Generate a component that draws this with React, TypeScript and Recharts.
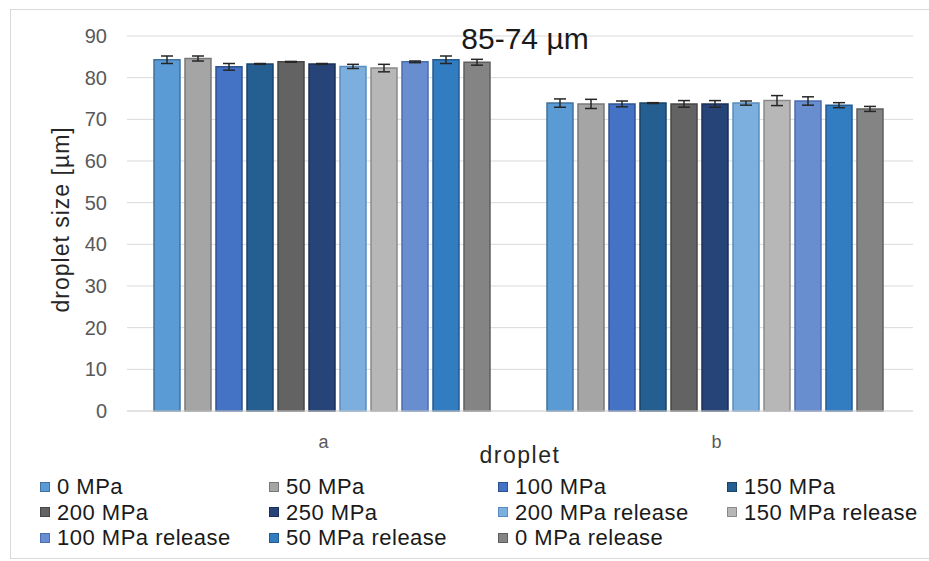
import React from "react";
import { BarChart, Bar, XAxis, YAxis, CartesianGrid, ErrorBar } from "recharts";

const categories = ["a", "b"];

const seriesNames = [
  "0 MPa",
  "50 MPa",
  "100 MPa",
  "150 MPa",
  "200 MPa",
  "250 MPa",
  "200 MPa release",
  "150 MPa release",
  "100 MPa release",
  "50 MPa release",
  "0 MPa release",
];

const valuesA = [84.3, 84.6, 82.6, 83.3, 83.8, 83.3, 82.7, 82.3, 83.8, 84.3, 83.7];
const errorsA = [0.9, 0.6, 0.8, 0.1, 0.1, 0.1, 0.5, 0.9, 0.2, 0.9, 0.7];
const valuesB = [73.9, 73.7, 73.7, 73.9, 73.7, 73.7, 73.9, 74.5, 74.4, 73.4, 72.5];
const errorsB = [1.0, 1.1, 0.7, 0.1, 0.8, 0.8, 0.5, 1.2, 1.0, 0.6, 0.6];

const yTicks = [0, 10, 20, 30, 40, 50, 60, 70, 80, 90];

const colors = [
  "#5B9BD5",
  "#A5A5A5",
  "#4472C4",
  "#255E91",
  "#636363",
  "#264478",
  "#7CAFDD",
  "#B7B7B7",
  "#698ED0",
  "#327DC2",
  "#848484",
];
const outlines = [
  "#41719C",
  "#787878",
  "#2F528F",
  "#1A4367",
  "#474747",
  "#1B3056",
  "#5A8DBF",
  "#8A8A8A",
  "#4A6DB0",
  "#245A8E",
  "#5F5F5F",
];

const valueLists = [valuesA, valuesB];
const errorLists = [errorsA, errorsB];

const data = categories.map((cat, ci) => {
  const row: Record<string, string | number> = { name: cat };
  seriesNames.forEach((_, si) => {
    row[`s${si}`] = valueLists[ci][si];
    row[`e${si}`] = errorLists[ci][si];
  });
  return row;
});

const font = "'Liberation Sans', Arial, sans-serif";

const App: React.FC = () => {
  return (
    <div
      style={{
        position: "fixed",
        left: 0,
        top: 0,
        width: 929,
        height: 561,
        background: "#fff",
        fontFamily: font,
      }}
    >
      <div
        style={{
          position: "absolute",
          left: 10,
          top: 9,
          width: 919,
          height: 548,
          borderLeft: "1px solid #d9d9d9",
          borderTop: "1px solid #d9d9d9",
          borderBottom: "1px solid #d9d9d9",
        }}
      />
      <BarChart
        width={929}
        height={561}
        data={data}
        margin={{ top: 36, right: 16, bottom: 120, left: 67 }}
        barCategoryGap={27}
        barGap={5}
      >
        <CartesianGrid vertical={false} stroke="#d9d9d9" />
        <XAxis
          dataKey="name"
          height={30}
          axisLine={{ stroke: "#d9d9d9" }}
          tickLine={false}
          tick={{ fill: "#595959", fontSize: 18, fontFamily: font }}
          tickMargin={18}
          label={{
            value: "droplet",
            position: "insideBottom",
            offset: -22,
            fill: "#262626",
            fontSize: 23,
            letterSpacing: 1.5,
            fontFamily: font,
          }}
        />
        <YAxis
          width={60}
          domain={[0, 90]}
          ticks={yTicks}
          axisLine={false}
          tickLine={false}
          tick={{ fill: "#595959", fontSize: 20, fontFamily: font }}
          tickMargin={14}
          label={{
            value: "droplet size [µm]",
            angle: -90,
            position: "insideLeft",
            dx: -11,
            dy: 89,
            fill: "#262626",
            fontSize: 23,
            letterSpacing: 1,
            fontFamily: font,
          }}
        />
        {seriesNames.map((name, si) => (
          <Bar
            key={name}
            dataKey={`s${si}`}
            name={name}
            fill={colors[si]}
            stroke={outlines[si]}
            strokeWidth={1.5}
            isAnimationActive={false}
          >
            <ErrorBar dataKey={`e${si}`} width={6} stroke="#262626" strokeWidth={1.5} />
          </Bar>
        ))}
      </BarChart>
      <div
        style={{
          position: "absolute",
          left: 400,
          width: 250,
          top: 22,
          textAlign: "center",
          fontSize: 30,
          color: "#1a1a1a",
          lineHeight: "34px",
        }}
      >
        85-74 µm
      </div>
      <div
        style={{
          position: "absolute",
          left: 40,
          top: 474,
          width: 889,
          display: "grid",
          gridTemplateColumns: "229px 229px 229px 200px",
        }}
      >
        {seriesNames.map((name, si) => (
          <div
            key={name}
            style={{
              display: "flex",
              alignItems: "center",
              fontSize: 22,
              letterSpacing: 0.5,
              lineHeight: "25.5px",
              color: "#1a1a1a",
              whiteSpace: "nowrap",
            }}
          >
            <span
              style={{
                display: "inline-block",
                width: 8,
                height: 8,
                background: colors[si],
                border: `1px solid ${outlines[si]}`,
                marginRight: 7,
              }}
            />
            {name}
          </div>
        ))}
      </div>
    </div>
  );
};

export default App;
